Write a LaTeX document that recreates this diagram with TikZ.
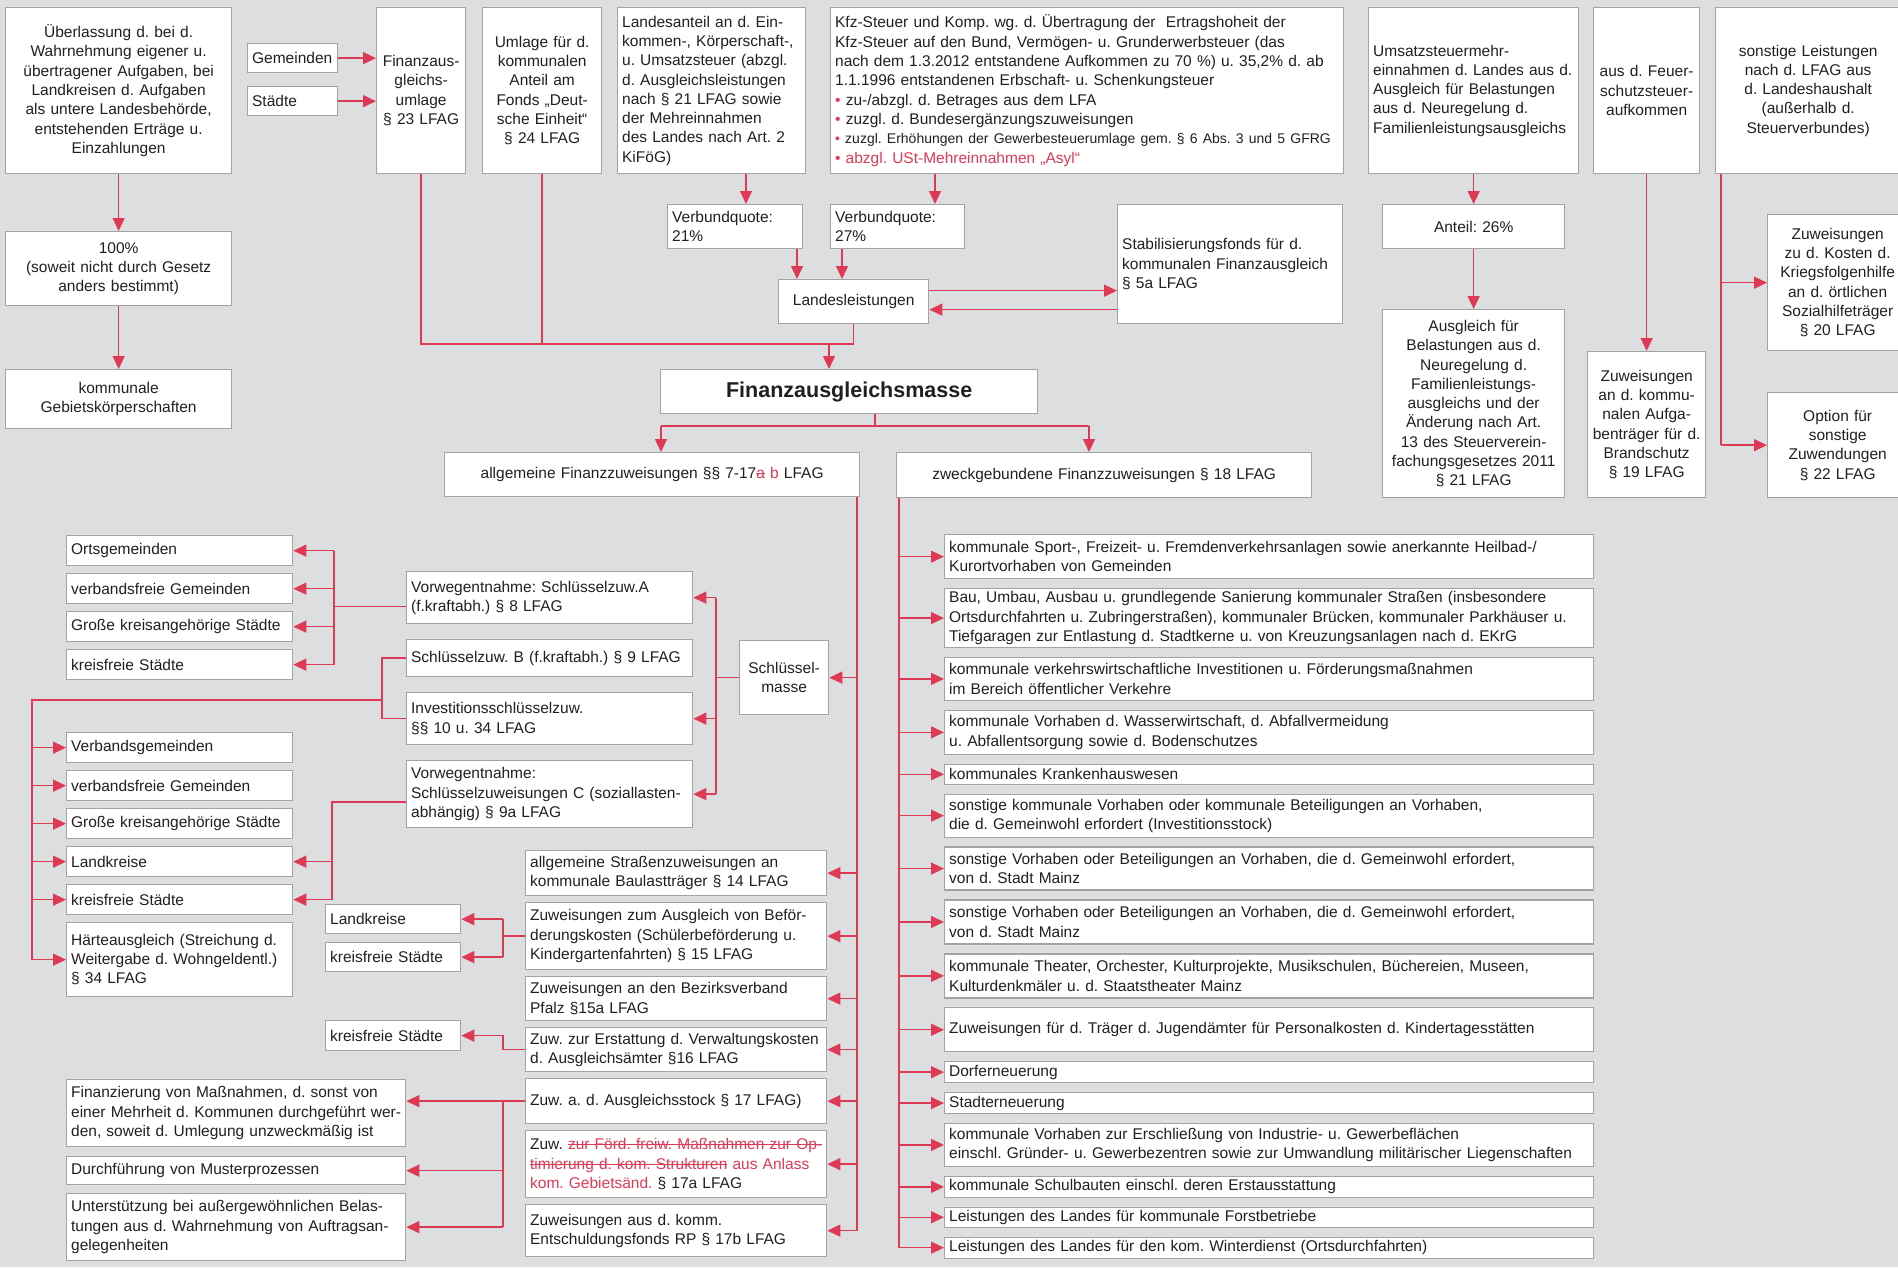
\documentclass[tikz,border=0pt]{standalone}
\usepackage{fontspec}
\setmainfont{Liberation Sans}
\usetikzlibrary{arrows.meta, positioning}
\definecolor{bg}{HTML}{DDDEE0}
\definecolor{fred}{HTML}{DF3A55}
\definecolor{frame}{HTML}{A3A3A3}
\definecolor{ink}{HTML}{231F20}
\newcommand{\boxfont}{\fontsize{15.5}{19.3}\selectfont\frenchspacing\hyphenpenalty=10000\exhyphenpenalty=10000}
\newsavebox{\strkbox}
\newcommand{\strk}[1]{\sbox{\strkbox}{#1}\rlap{\usebox{\strkbox}}\rule[0.28em]{\wd\strkbox}{0.07em}}

\begin{document}
\begin{tikzpicture}[x=1pt, y=-1pt,
  box/.style={draw=frame, line width=1.3pt, fill=white, text=ink, font=\boxfont,
    inner xsep=4.5pt, inner ysep=1pt, align=left, anchor=north west},
  cbox/.style={box, align=center},
  sz/.style 2 args={minimum width=#1pt, minimum height=#2pt, text width=#1pt-9pt},
  rl/.style={draw=fred, line width=1.4pt},
  arr/.style={rl, -{Triangle[length=13pt, width=12pt]}},
  node distance=6.7pt]

\fill[bg] (0,0) rectangle (1898,1267);
\useasboundingbox (0,0) rectangle (1898,1267);

%Ueberlassung
\node[cbox, sz={226}{166}] (ueberl) at (5,7) {Überlassung d. bei d.\\Wahrnehmung eigener u.\\übertragener Aufgaben, bei\\Landkreisen d. Aufgaben\\als untere Landesbehörde,\\entstehenden Erträge u.\\Einzahlungen};
%100%
\node[cbox, sz={226}{74}] (hundert) at (5,231) {100\%\\(soweit nicht durch Gesetz\\anders bestimmt)};
%Gebietskoerperschaften
\node[cbox, sz={226}{59}] (kommgeb) at (5,369) {kommunale\\Gebietskörperschaften};

%Gemeinden, Staedte
\node[box, sz={90}{29}] (gem) at (247,43) {Gemeinden};
\node[box, sz={90}{29}] (staedte) at (247,86) {Städte};
%§ 23
\node[cbox, sz={89}{166}] (umlage23) at (376,7) {Finanzaus-\\gleichs-\\umlage\\§ 23 LFAG};
%§ 24
\node[cbox, sz={119}{166}] (umlage24) at (482,7) {Umlage für d.\\kommunalen\\Anteil am\\Fonds „Deut-\\sche Einheit“\\§ 24 LFAG};
%Landesanteil
\node[box, sz={188}{166}] (landant) at (617,7) {Landesanteil an d. Ein-\\kommen-, Körperschaft-,\\u. Umsatzsteuer (abzgl.\\d. Ausgleichsleistungen\\nach § 21 LFAG sowie\\der Mehreinnahmen\\des Landes nach Art. 2\\KiFöG)};
%Kfz-Steuer
\node[box, sz={513}{166}] (kfz) at (830,7) {Kfz-Steuer und Komp. wg. d. Übertragung der~ Ertragshoheit der\\Kfz-Steuer auf den Bund, Vermögen- u. Grunderwerbsteuer (das\\nach dem 1.3.2012 entstandene Aufkommen zu 70 \%) u. 35,2\% d. ab\\1.1.1996 entstandenen Erbschaft- u. Schenkungsteuer\\\textcolor{fred}{•} zu-/abzgl. d. Betrages aus dem LFA\\\textcolor{fred}{•} zuzgl. d. Bundesergänzungszuweisungen\\\mbox{\fontsize{14}{19.3}\selectfont\textcolor{fred}{•} zuzgl. Erhöhungen der Gewerbesteuerumlage gem. § 6 Abs. 3 und 5 GFRG}\\\textcolor{fred}{• abzgl. USt-Mehreinnahmen „Asyl“}};
%Umsatzsteuer
\node[box, sz={210}{166}] (umsatz) at (1368,7) {Umsatzsteuermehr-\\einnahmen d. Landes aus d.\\Ausgleich für Belastungen\\aus d. Neuregelung d.\\Familienleistungsausgleichs};
%Feuerschutz
\node[cbox, sz={106}{166}] (feuer) at (1593,7) {aus d. Feuer-\\schutzsteuer-\\aufkommen};
%sonstige Leistungen
\node[cbox, sz={185}{166}] (sonstl) at (1715,7) {sonstige Leistungen\\nach d. LFAG aus\\d. Landeshaushalt\\(außerhalb d.\\Steuerverbundes)};

%Verbundquoten
\node[box, sz={135}{44}] (vq21) at (667,204) {Verbundquote:\\21\%};
\node[box, sz={134}{44}] (vq27) at (830,204) {Verbundquote:\\27\%};
%Landesleistungen
\node[cbox, sz={150}{44}] (landesl) at (778,279) {Landesleistungen};
%Stabilisierungsfonds
\node[box, sz={225}{119}] (stabi) at (1117,204) {Stabilisierungsfonds für d.\\kommunalen Finanzausgleich\\§ 5a LFAG};
%Anteil
\node[cbox, sz={182}{44}] (anteil) at (1382,204) {Anteil: 26\%};
\node[cbox, sz={182}{188}] (ausgl) at (1382,309) {Ausgleich für\\Belastungen aus d.\\Neuregelung d.\\Familienleistungs-\\ausgleichs und der\\Änderung nach Art.\\13 des Steuerverein-\\fachungsgesetzes 2011\\§ 21 LFAG};
%§ 19
\node[cbox, sz={118}{146}, inner xsep=2pt, text width=114pt] (brand) at (1587,351) {Zuweisungen\\an d. kommu-\\nalen Aufga-\\benträger für d.\\Brandschutz\\§ 19 LFAG};
%§ 20, § 22
\node[cbox, sz={140}{136}] (kriegs) at (1767,214) {Zuweisungen\\zu d. Kosten d.\\Kriegsfolgenhilfe\\an d. örtlichen\\Sozialhilfeträger\\§ 20 LFAG};
\node[cbox, sz={140}{105}] (option) at (1767,392) {Option für\\sonstige\\Zuwendungen\\§ 22 LFAG};

%Finanzausgleichsmasse
\node[cbox, sz={377}{44}, font=\bfseries\fontsize{21.5}{24}\selectfont] (fam) at (660,369) {Finanzausgleichsmasse};
\node[cbox, sz={415}{44}] (allg) at (444,452) {allgemeine Finanzzuweisungen §§ 7-17\textcolor{fred}{\strk{a} b} LFAG};
\node[cbox, sz={415}{45}] (zweck) at (896,452) {zweckgebundene Finanzzuweisungen § 18 LFAG};

%Schluesselzuweisungen
\node[box, sz={286}{52}] (vorwa) at (406,571) {Vorwegentnahme: Schlüsselzuw.A\\(f.kraftabh.) § 8 LFAG};
\node[box, sz={286}{37}, below=14.7pt of vorwa] (schlb) {Schlüsselzuw. B (f.kraftabh.) § 9 LFAG};
\node[box, sz={286}{52}, below=14.7pt of schlb] (invest) {Investitionsschlüsselzuw.\\§§ 10 u. 34 LFAG};
\node[box, sz={286}{67}, below=14.7pt of invest] (vorwc) {Vorwegentnahme:\\Schlüsselzuweisungen C (soziallasten-\\abhängig) § 9a LFAG};
\node[cbox, sz={89}{74}] (schlm) at (739,640) {Schlüssel-\\masse};

%Empfaenger oben links
\node[box, sz={226}{30}] (ortsg) at (66,535) {Ortsgemeinden};
\node[box, sz={226}{30}, below=of ortsg] (vfg1) {verbandsfreie Gemeinden};
\node[box, sz={226}{30}, below=of vfg1] (gks1) {Große kreisangehörige Städte};
\node[box, sz={226}{30}, below=of gks1] (kfs1) {kreisfreie Städte};
%Empfaenger unten links
\node[box, sz={226}{30}] (vbg) at (66,732) {Verbandsgemeinden};
\node[box, sz={226}{30}, below=of vbg] (vfg2) {verbandsfreie Gemeinden};
\node[box, sz={226}{30}, below=of vfg2] (gks2) {Große kreisangehörige Städte};
\node[box, sz={226}{30}, below=of gks2] (lk1) {Landkreise};
\node[box, sz={226}{30}, below=of lk1] (kfs2) {kreisfreie Städte};
\node[box, sz={226}{74}, below=of kfs2] (haerte) {Härteausgleich (Streichung d.\\Weitergabe d. Wohngeldentl.)\\§ 34 LFAG};

%§§ 14-17b
\node[box, sz={301}{45}] (strass) at (525,850) {allgemeine Straßenzuweisungen an\\kommunale Baulastträger § 14 LFAG};
\node[box, sz={301}{67}, below=5.7pt of strass] (befoerd) {Zuweisungen zum Ausgleich von Beför-\\derungskosten (Schülerbeförderung u.\\Kindergartenfahrten) § 15 LFAG};
\node[box, sz={301}{44}, below=5.7pt of befoerd] (bezirk) {Zuweisungen an den Bezirksverband\\Pfalz §15a LFAG};
\node[box, sz={301}{44}, below=5.7pt of bezirk] (erstatt) {Zuw. zur Erstattung d. Verwaltungskosten\\d. Ausgleichsämter §16 LFAG};
\node[box, sz={301}{45}, below=5.7pt of erstatt] (stock) {Zuw. a. d. Ausgleichsstock § 17 LFAG)};
\node[box, sz={301}{67}, below=5.7pt of stock] (foerd) {Zuw. \textcolor{fred}{\strk{zur Förd. freiw. Maßnahmen zur Op-}}\\\textcolor{fred}{\strk{timierung d. kom. Strukturen} aus Anlass}\\\textcolor{fred}{kom. Gebietsänd.} § 17a LFAG};
\node[box, sz={301}{52}, below=5.7pt of foerd] (entsch) {Zuweisungen aus d. komm.\\Entschuldungsfonds RP § 17b LFAG};

%Landkreise, kreisfreie Staedte
\node[box, sz={135}{29}] (lk2) at (325,904) {Landkreise};
\node[box, sz={135}{29}] (kfs3) at (325,942) {kreisfreie Städte};
\node[box, sz={135}{30}] (kfs4) at (325,1020) {kreisfreie Städte};

%Ausgleichsstock
\node[box, sz={339}{67}] (finanz) at (66,1079) {Finanzierung von Maßnahmen, d. sonst von\\einer Mehrheit d. Kommunen durchgeführt wer-\\den, soweit d. Umlegung unzweckmäßig ist};
\node[box, sz={339}{28}] (muster) at (66,1156) {Durchführung von Musterprozessen};
\node[box, sz={339}{67}] (unterst) at (66,1193) {Unterstützung bei außergewöhnlichen Belas-\\tungen aus d. Wahrnehmung von Auftragsan-\\gelegenheiten};

%§ 18
\node[box, sz={649}{44}] (z1) at (944,534) {kommunale Sport-, Freizeit- u. Fremdenverkehrsanlagen sowie anerkannte Heilbad-/\\Kurortvorhaben von Gemeinden};
\node[box, sz={649}{59}, below=8.6pt of z1] (z2) {Bau, Umbau, Ausbau u. grundlegende Sanierung kommunaler Straßen (insbesondere\\Ortsdurchfahrten u. Zubringerstraßen), kommunaler Brücken, kommunaler Parkhäuser u.\\Tiefgaragen zur Entlastung d. Stadtkerne u. von Kreuzungsanlagen nach d. EKrG};
\node[box, sz={649}{43}, below=8.6pt of z2] (z3) {kommunale verkehrswirtschaftliche Investitionen u. Förderungsmaßnahmen\\im Bereich öffentlicher Verkehre};
\node[box, sz={649}{44}, below=8.6pt of z3] (z4) {kommunale Vorhaben d. Wasserwirtschaft, d. Abfallvermeidung\\u. Abfallentsorgung sowie d. Bodenschutzes};
\node[box, sz={649}{20}, below=8.6pt of z4] (z5) {kommunales Krankenhauswesen};
\node[box, sz={649}{43}, below=8.6pt of z5] (z6) {sonstige kommunale Vorhaben oder kommunale Beteiligungen an Vorhaben,\\die d. Gemeinwohl erfordert (Investitionsstock)};
\node[box, sz={649}{43}, below=8.6pt of z6] (z7) {sonstige Vorhaben oder Beteiligungen an Vorhaben, die d. Gemeinwohl erfordert,\\von d. Stadt Mainz};
\node[box, sz={649}{44}, below=8.6pt of z7] (z8) {sonstige Vorhaben oder Beteiligungen an Vorhaben, die d. Gemeinwohl erfordert,\\von d. Stadt Mainz};
\node[box, sz={649}{44}, below=8.6pt of z8] (z9) {kommunale Theater, Orchester, Kulturprojekte, Musikschulen, Büchereien, Museen,\\Kulturdenkmäler u. d. Staatstheater Mainz};
\node[box, sz={649}{44}, below=8.6pt of z9] (z10) {Zuweisungen für d. Träger d. Jugendämter für Personalkosten d. Kindertagesstätten};
\node[box, sz={649}{21}, below=8.6pt of z10] (z11) {Dorferneuerung};
\node[box, sz={649}{21}, below=8.6pt of z11] (z12) {Stadterneuerung};
\node[box, sz={649}{43}, below=8.6pt of z12] (z13) {kommunale Vorhaben zur Erschließung von Industrie- u. Gewerbeflächen\\einschl. Gründer- u. Gewerbezentren sowie zur Umwandlung militärischer Liegenschaften};
\node[box, sz={649}{21}, below=8.6pt of z13] (z14) {kommunale Schulbauten einschl. deren Erstausstattung};
\node[box, sz={649}{20}, below=8.6pt of z14] (z15) {Leistungen des Landes für kommunale Forstbetriebe};
\node[box, sz={649}{21}, below=8.6pt of z15] (z16) {Leistungen des Landes für den kom. Winterdienst (Ortsdurchfahrten)};

%Verbindungen oben
\draw[arr] (ueberl) -- (hundert);
\draw[arr] (hundert) -- (kommgeb);
\draw[arr] (gem) -- (gem -| umlage23.west);
\draw[arr] (staedte) -- (staedte -| umlage23.west);
\coordinate (fj) at (829,344);
\draw[rl] (umlage23.south) |- (landesl.south |- fj) -- (landesl.south);
\draw[rl] (umlage24.south) -- (umlage24.south |- fj);
\draw[arr] (fj) -- (fj |- fam.north);
\draw[arr] (746,0 |- landant.south) -- (746,0 |- vq21.north);
\draw[arr] (797,0 |- vq21.south) -- (797,0 |- landesl.north);
\draw[arr] (935,0 |- kfz.south) -- (935,0 |- vq27.north);
\draw[arr] (842,0 |- vq27.south) -- (842,0 |- landesl.north);
\draw[arr] ([yshift=11pt]landesl.east) -- ([yshift=11pt]landesl.east -| stabi.west);
\draw[arr] ([yshift=-8pt]landesl.east -| stabi.west) -- ([yshift=-8pt]landesl.east);
\draw[arr] (umsatz) -- (anteil);
\draw[arr] (anteil) -- (ausgl);
\draw[arr] (feuer) -- (brand);
\draw[rl] (1721,0 |- sonstl.south) -- (1721,0 |- option.west);
\draw[arr] (1721,0 |- kriegs.west) -- (kriegs.west);
\draw[arr] (1721,0 |- option.west) -- (option.west);

%Finanzausgleichsmasse verteilen
\coordinate (fl) at (661,426);
\coordinate (fr) at (1089,426);
\draw[rl] (875,0 |- fam.south) -- (875,426);
\draw[rl] (fl) -- (fr);
\draw[arr] (fl) -- (fl |- allg.north);
\draw[arr] (fr) -- (fr |- zweck.north);

%allgemeine Finanzzuweisungen
\draw[rl] (857,0 |- allg.south) -- (857,0 |- entsch.east);
\foreach \n in {schlm,strass,befoerd,bezirk,erstatt,stock,foerd,entsch}
  \draw[arr] (857,0 |- \n.east) -- (\n.east);

%Schluesselmasse
\draw[rl] (schlm.west) -- (716,0 |- schlm.west);
\draw[rl] (716,0 |- vorwa.east) -- (716,0 |- vorwc.east);
\foreach \n in {vorwa,invest,vorwc}
  \draw[arr] (716,0 |- \n.east) -- (\n.east);

%Schluesselzuw. A
\draw[rl] ([yshift=-9pt]vorwa.west) -- ([yshift=-9pt]vorwa.west -| 334,0);
\draw[rl] (334,0 |- ortsg.east) -- (334,0 |- kfs1.east);
\foreach \n in {ortsg,vfg1,gks1,kfs1}
  \draw[arr] (334,0 |- \n.east) -- (\n.east);

%Schluesselzuw. B und Investitionsschluesselzuw.
\coordinate (bi) at (382,700);
\draw[rl] (schlb.west) -| (bi) |- (invest.west);
\draw[rl] (bi) -| (32,0 |- haerte.west);
\foreach \n in {vbg,vfg2,gks2,lk1,kfs2,haerte}
  \draw[arr] (32,0 |- \n.west) -- (\n.west);

%Schluesselzuw. C
\draw[rl] ([yshift=-8pt]vorwc.west) -| (332,0 |- kfs2.east);
\foreach \n in {lk1,kfs2}
  \draw[arr] (332,0 |- \n.east) -- (\n.east);

%§ 15, § 16, § 17
\draw[rl] (befoerd.west) -- (503,0 |- befoerd.west);
\draw[rl] (503,0 |- lk2.east) -- (503,0 |- kfs3.east);
\foreach \n in {lk2,kfs3}
  \draw[arr] (503,0 |- \n.east) -- (\n.east);
\draw[arr] (erstatt.west) -| (503,0 |- kfs4.east) -- (kfs4.east);
\draw[rl] (stock.west) -- (503,0 |- stock.west) -- (503,0 |- unterst.east);
\draw[arr] (503,0 |- stock.west) -- (finanz.east |- stock.west);
\draw[arr] (503,0 |- muster.east) -- (muster.east);
\draw[arr] (503,0 |- unterst.east) -- (unterst.east);

%zweckgebundene Finanzzuweisungen
\draw[rl] (899,0 |- zweck.south) -- (899,0 |- z16.west);
\foreach \n in {z1,z2,z3,z4,z5,z6,z7,z8,z9,z10,z11,z12,z13,z14,z15,z16}
  \draw[arr] (899,0 |- \n.west) -- (\n.west);

\end{tikzpicture}
\end{document}
